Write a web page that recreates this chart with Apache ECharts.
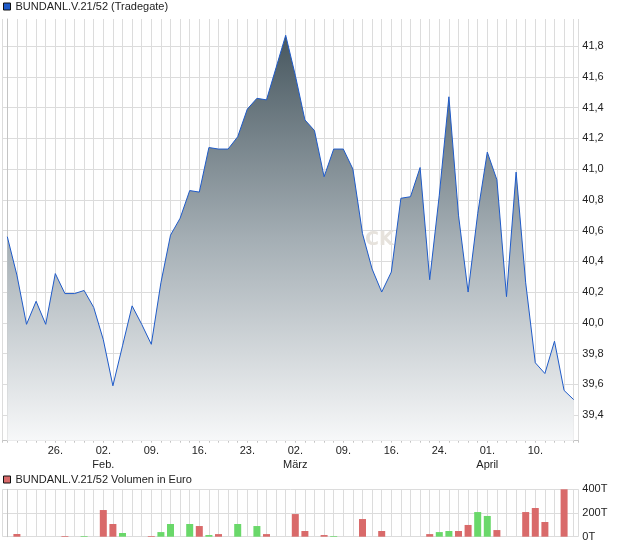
<!DOCTYPE html>
<html><head><meta charset="utf-8">
<script src="https://cdn.jsdelivr.net/npm/echarts@6/dist/echarts.min.js"></script>
<style>html,body{margin:0;padding:0;background:#fff}#c{width:620px;height:546px}</style>
</head><body><div id="c"></div>
<script>
const priceName = 'BUNDANL.V.21/52 (Tradegate)';
const volumeName = 'BUNDANL.V.21/52 Volumen in Euro';

// daily prices (one per trading day)
const prices = [40.56, 40.31, 39.99, 40.14, 39.99, 40.32, 40.19, 40.19, 40.21, 40.10,
  39.89, 39.59, 39.85, 40.11, 39.99, 39.86, 40.26, 40.57, 40.68, 40.86,
  40.85, 41.14, 41.13, 41.13, 41.21, 41.39, 41.46, 41.45, 41.66, 41.87,
  41.61, 41.32, 41.25, 40.95, 41.13, 41.13, 41.00, 40.58, 40.35, 40.20,
  40.33, 40.81, 40.82, 41.01, 40.28, 40.83, 41.47, 40.70, 40.20, 40.71,
  41.11, 40.93, 40.17, 40.98, 40.26, 39.74, 39.67, 39.88, 39.56, 39.50];

// daily volume in thousand euro (T)
const volumes = [0, 23, 0, 0, 0, 0, 6, 0, 6, 0,
  225, 107, 31, 0, 0, 6, 39, 107, 0, 107,
  90, 14, 22, 0, 107, 0, 90, 22, 0, 0,
  191, 48, 0, 14, 6, 0, 0, 149, 0, 48,
  0, 0, 0, 0, 22, 39, 48, 48, 99, 208,
  175, 56, 0, 0, 208, 242, 124, 0, 400, 0];

// x tick labels (day index -> label)
const tickIndex = [5, 10, 15, 20, 25, 30, 35, 40, 45, 50, 55];
const tickLabels = ['26.', '02.\nFeb.', '09.', '16.', '23.', '02.\nMärz', '09.', '16.', '24.', '01.\nApril', '10.'];

const volumeMax = 400;
const volumeStep = 200;

const FONT = '"Liberation Sans", Arial, sans-serif';
const GRID_C = '#dcdcdc';
const AXIS_C = '#c4c4c4';
const TEXT_C = '#222';
const UP = '#6ad86a';
const DOWN = '#d96a6a';

const n = prices.length;
const xMin = -0.48, xMax = n - 1 + 0.48;

const chart = echarts.init(document.getElementById('c'), null, {renderer: 'canvas'});
chart.setOption({
  animation: false,
  backgroundColor: '#fff',
  textStyle: {fontFamily: FONT},
  legend: [
    {data: [priceName], left: 3, top: 1, padding: 0, icon: 'rect', itemWidth: 7, itemHeight: 7,
     itemStyle: {borderColor: '#111', borderWidth: 1},
     textStyle: {fontSize: 11, color: TEXT_C, fontFamily: FONT}, selectedMode: false},
    {data: [volumeName], left: 3, top: 474, padding: 0, icon: 'rect', itemWidth: 7, itemHeight: 7,
     itemStyle: {borderColor: '#111', borderWidth: 1},
     textStyle: {fontSize: 11, color: TEXT_C, fontFamily: FONT}, selectedMode: false}
  ],
  graphic: [
    {type: 'text', left: 365, top: 231, z: 1, silent: true,
     style: {text: 'CK', font: 'bold 19px "DejaVu Sans", sans-serif', fill: '#e6e2dc'}}
  ],
  grid: [
    {left: 2.7, right: 41.7, top: 19, bottom: 105.3, outerBoundsMode: 'none'},
    {left: 2.7, right: 41.7, top: 489.3, height: 47.4, outerBoundsMode: 'none'}
  ],
  xAxis: [
    {type: 'value', gridIndex: 0, min: xMin, max: xMax, minInterval: 1, maxInterval: 1,
     axisLine: {show: true, lineStyle: {color: AXIS_C}},
     axisTick: {show: true, length: 2, lineStyle: {color: AXIS_C}},
     axisLabel: {fontSize: 11, color: TEXT_C, margin: 3, lineHeight: 14,
       formatter: function (v) {
         const r = Math.round(v);
         if (Math.abs(v - r) > 1e-6) return '';
         const p = tickIndex.indexOf(r);
         return p >= 0 ? tickLabels[p] : '';
       }},
     splitLine: {show: true, lineStyle: {color: GRID_C, width: 1}}},
    {type: 'value', gridIndex: 1, min: xMin, max: xMax, minInterval: 1, maxInterval: 1,
     axisLine: {show: false}, axisTick: {show: false}, axisLabel: {show: false},
     splitLine: {show: true, lineStyle: {color: GRID_C, width: 1}}}
  ],
  yAxis: [
    {type: 'value', gridIndex: 0, position: 'right', min: 39.233, max: 41.976,
     minInterval: 0.2, maxInterval: 0.2,
     axisLine: {show: true, lineStyle: {color: AXIS_C}},
     axisTick: {show: false},
     axisLabel: {fontSize: 11, color: TEXT_C, margin: 4, showMinLabel: false, showMaxLabel: false,
       formatter: v => v.toFixed(1).replace('.', ',')},
     splitLine: {show: true, showMaxLine: false, lineStyle: {color: GRID_C, width: 1}}},
    {type: 'value', gridIndex: 1, position: 'right', min: 0, max: volumeMax, interval: volumeStep,
     axisLine: {show: true, lineStyle: {color: AXIS_C}},
     axisTick: {show: false},
     axisLabel: {fontSize: 11, color: TEXT_C, margin: 4, formatter: v => v + 'T'},
     splitLine: {show: true, lineStyle: {color: GRID_C, width: 1}}}
  ],
  series: [
    {name: priceName, type: 'line', xAxisIndex: 0, yAxisIndex: 0,
     data: prices.map((v, i) => [i, v]),
     symbol: 'none', showSymbol: false, color: '#1f5bc9',
     lineStyle: {color: '#1f5bc9', width: 1},
     areaStyle: {origin: 'start', opacity: 1,
       color: new echarts.graphic.LinearGradient(0, 0, 0, 1, [
         {offset: 0, color: '#47575f'},
         {offset: 0.5, color: '#a4aeb4'},
         {offset: 1, color: '#f7f8f9'}])},
     z: 2},
    {name: volumeName, type: 'bar', xAxisIndex: 1, yAxisIndex: 1, barWidth: 7, color: DOWN,
     data: volumes.map((v, i) => ({value: [i, v],
       itemStyle: {color: (i > 0 && prices[i] > prices[i - 1]) ? UP : DOWN}}))}
  ]
});
</script></body></html>
